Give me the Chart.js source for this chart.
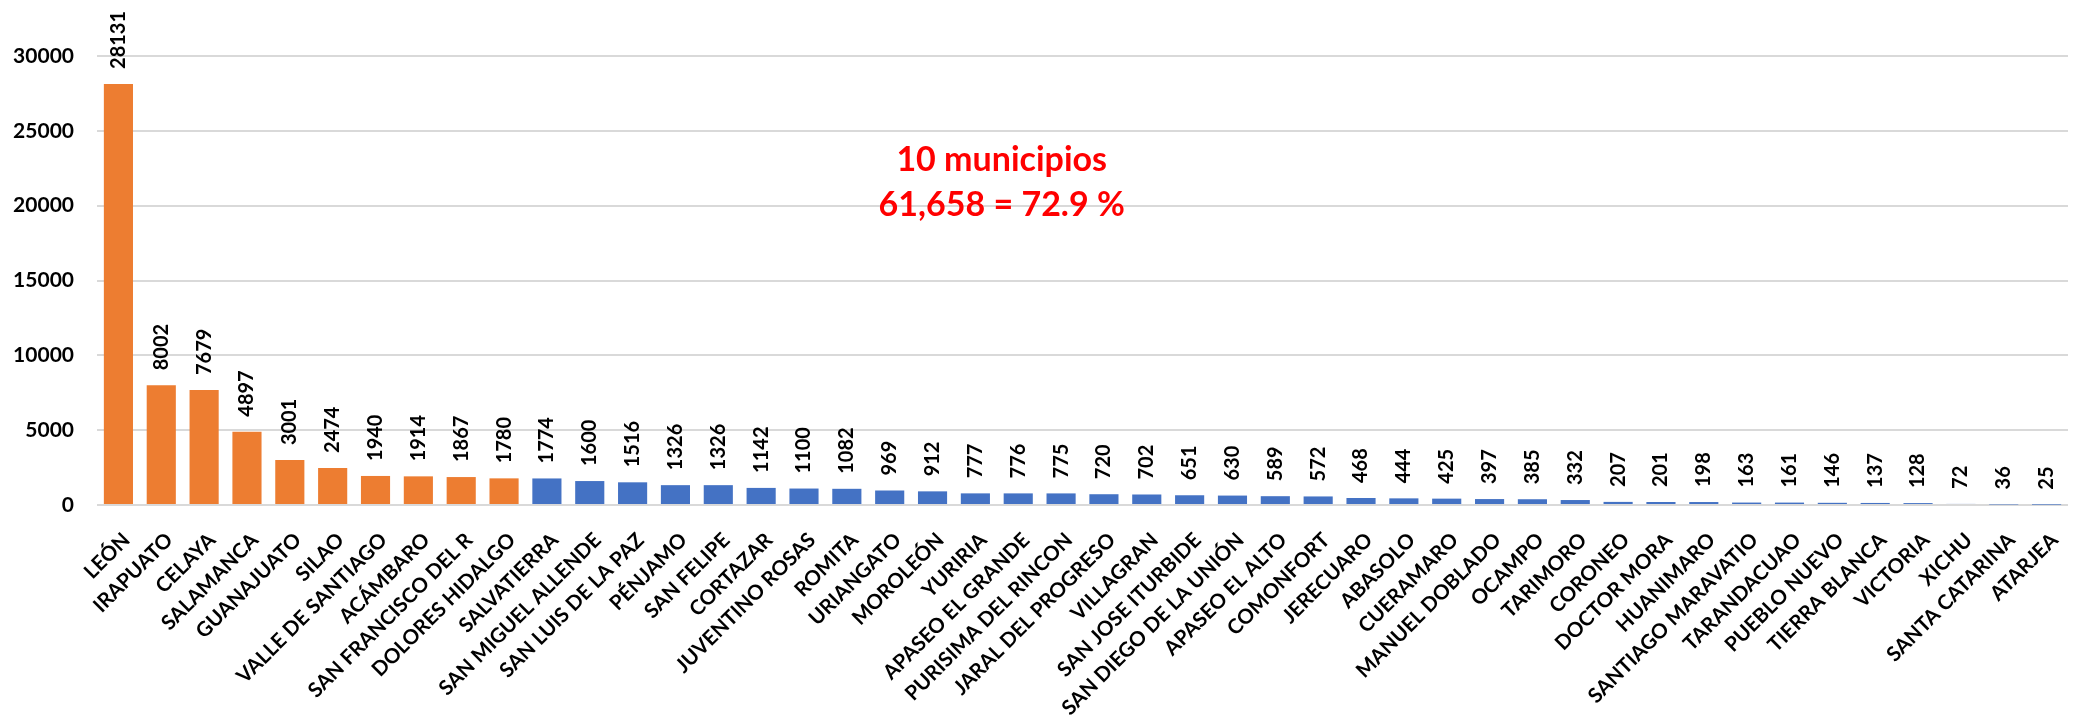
<!DOCTYPE html>
<html>
<head>
<meta charset="utf-8">
<title>Municipios</title>
<script src="https://cdn.jsdelivr.net/npm/chart.js@4"></script>
<style>
  body { margin: 0; background: #fff; }
  #wrap { width: 2079px; height: 715px; }
</style>
</head>
<body>
<div id="wrap"><canvas id="municipiosChart" width="2079" height="715"></canvas></div>
<script>
'use strict';

const municipios = [
  'LEÓN', 'IRAPUATO', 'CELAYA', 'SALAMANCA', 'GUANAJUATO', 'SILAO',
  'VALLE DE SANTIAGO', 'ACÁMBARO', 'SAN FRANCISCO DEL R', 'DOLORES HIDALGO',
  'SALVATIERRA', 'SAN MIGUEL ALLENDE', 'SAN LUIS DE LA PAZ', 'PÉNJAMO',
  'SAN FELIPE', 'CORTAZAR', 'JUVENTINO ROSAS', 'ROMITA', 'URIANGATO',
  'MOROLEÓN', 'YURIRIA', 'APASEO EL GRANDE', 'PURISIMA DEL RINCON',
  'JARAL DEL PROGRESO', 'VILLAGRAN', 'SAN JOSE ITURBIDE',
  'SAN DIEGO DE LA UNIÓN', 'APASEO EL ALTO', 'COMONFORT', 'JERECUARO',
  'ABASOLO', 'CUERAMARO', 'MANUEL DOBLADO', 'OCAMPO', 'TARIMORO', 'CORONEO',
  'DOCTOR MORA', 'HUANIMARO', 'SANTIAGO MARAVATIO', 'TARANDACUAO',
  'PUEBLO NUEVO', 'TIERRA BLANCA', 'VICTORIA', 'XICHU', 'SANTA CATARINA',
  'ATARJEA'
];

const valores = [
  28131, 8002, 7679, 4897, 3001, 2474, 1940, 1914, 1867, 1780,
  1774, 1600, 1516, 1326, 1326, 1142, 1100, 1082, 969, 912,
  777, 776, 775, 720, 702, 651, 630, 589, 572, 468,
  444, 425, 397, 385, 332, 207, 201, 198, 163, 161,
  146, 137, 128, 72, 36, 25
];

const yTicks = [0, 5000, 10000, 15000, 20000, 25000, 30000];
const topCount = 10;
const notaLineas = ['10 municipios', '61,658 = 72.9 %'];

const ORANGE = '#ED7D31';
const BLUE = '#4472C4';
const FONT = 'Lato, "Open Sans", sans-serif';

const barColors = valores.map((v, i) => i < topCount ? ORANGE : BLUE);

// Value labels, rotated, above each bar
const valueLabels = {
  id: 'valueLabels',
  afterDatasetsDraw(chart) {
    const ctx = chart.ctx;
    const meta = chart.getDatasetMeta(0);
    ctx.save();
    ctx.font = 'bold 20px ' + FONT;
    ctx.fillStyle = '#000';
    ctx.textAlign = 'left';
    ctx.textBaseline = 'middle';
    meta.data.forEach((bar, i) => {
      ctx.save();
      ctx.translate(bar.x, bar.y - 15);
      ctx.rotate(-Math.PI / 2);
      ctx.fillText(String(valores[i]), 0, 0);
      ctx.restore();
    });
    ctx.restore();
  }
};

// Red note in the middle of the plot
const nota = {
  id: 'nota',
  afterDraw(chart) {
    const ctx = chart.ctx;
    const area = chart.chartArea;
    const cx = area.left + (area.right - area.left) * 0.459;
    ctx.save();
    ctx.font = 'bold 34px ' + FONT;
    ctx.fillStyle = '#FF0000';
    ctx.textAlign = 'center';
    ctx.textBaseline = 'alphabetic';
    ctx.fillText(notaLineas[0], cx, area.top + 115);
    ctx.fillText(notaLineas[1], cx, area.top + 160);
    ctx.restore();
  }
};

const ctx = document.getElementById('municipiosChart').getContext('2d');
new Chart(ctx, {
  type: 'bar',
  data: {
    labels: municipios,
    datasets: [{
      data: valores,
      backgroundColor: barColors,
      borderWidth: 0,
      categoryPercentage: 1,
      barPercentage: 0.68
    }]
  },
  options: {
    responsive: false,
    animation: false,
    devicePixelRatio: 1,
    layout: {
      padding: { top: 56, right: 2, left: 0, bottom: 0 }
    },
    plugins: {
      legend: { display: false },
      tooltip: { enabled: false }
    },
    scales: {
      x: {
        grid: { display: false },
        border: { display: false },
        ticks: {
          autoSkip: false,
          minRotation: 45,
          maxRotation: 45,
          padding: 15,
          labelOffset: 8,
          color: '#000',
          font: { family: FONT, size: 20.5, weight: 'bold' }
        },
        afterFit(scale) { scale.height = 210; }
      },
      y: {
        min: 0,
        max: 30000,
        afterBuildTicks(scale) {
          scale.ticks = yTicks.map(v => ({ value: v }));
        },
        grid: {
          color: '#D9D9D9',
          lineWidth: 2,
          drawTicks: false
        },
        border: { display: false },
        ticks: {
          padding: 23,
          color: '#000',
          font: { family: FONT, size: 21, weight: 'bold' },
          callback: v => String(v)
        },
        afterFit(scale) { scale.width = 97; }
      }
    }
  },
  plugins: [valueLabels, nota]
});
</script>
</body>
</html>
